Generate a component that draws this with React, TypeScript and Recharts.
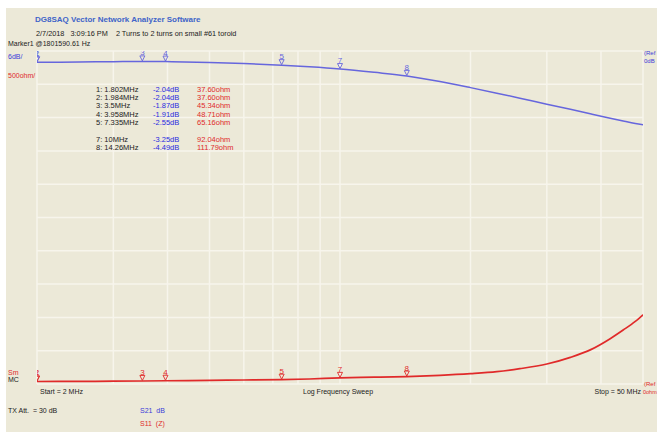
import React from "react";
import {
  ComposedChart,
  Line,
  XAxis,
  YAxis,
  Scatter,
  ReferenceLine,
} from "recharts";

// ---- data ----
const START_MHZ = 2;
const STOP_MHZ = 50;
const freqsMHz = [2, 2.5, 3, 3.5, 3.958, 5, 6, 7.335, 8.5, 10, 12, 14.26, 17, 20, 23, 26, 30, 34, 38, 42, 45, 48, 50];
const s21dB = [-2.04, -1.98, -1.92, -1.87, -1.91, -2.05, -2.25, -2.55, -2.85, -3.25, -3.85, -4.49, -5.5, -6.6, -7.6, -8.5, -9.6, -10.5, -11.35, -12.1, -12.6, -13.05, -13.3];
const s11Ohm = [37.6, 39.5, 42, 45.3, 48.7, 55, 60, 65.2, 75, 92, 102, 111.8, 130, 155, 185, 230, 300, 400, 520, 680, 810, 940, 1040];

const markerIds = ["1", "2", "3", "4", "5", "7", "8"];
const markerFreqLabels = ["1.802MHz", "1.984MHz", "3.5MHz", "3.958MHz", "7.335MHz", "10MHz", "14.26MHz"];
const markerFreqs = [1.802, 1.984, 3.5, 3.958, 7.335, 10, 14.26];
const markerDb = [-2.04, -2.04, -1.87, -1.91, -2.55, -3.25, -4.49];
const markerOhm = [37.6, 37.6, 45.34, 48.71, 65.16, 92.04, 111.79];
const markerRowIndex = [0, 1, 2, 3, 4, 6, 7];

const gridFreqs = [2, 3, 4, 5, 6, 7, 8, 9, 10, 20, 30, 40, 50];
const dbGrid = [0, -6, -12, -18, -24, -30, -36, -42, -48, -54, -60];

const dbDomain = [-60, 0];
const ohmDomain = [0, 5000];

// ---- layout ----
const W = 657;
const H = 432;
const PLOT_LEFT = 37;
const PLOT_RIGHT = 643;
const PLOT_TOP = 51;
const PLOT_BOTTOM = 384;

const BLUE = "#6666dd";
const RED = "#e02a2a";
const BG = "#ece9d8";
const GRID = "#f7f5ec";
const FONT = "'Liberation Sans', Arial, sans-serif";

const chartData = freqsMHz.map((f, i) => ({ f, s21: s21dB[i], z: s11Ohm[i] }));
const markerData = markerFreqs.map((f, i) => ({
  f: Math.max(f, START_MHZ),
  db: markerDb[i],
  ohm: markerOhm[i],
  id: markerIds[i],
}));

const makeFlag = (color: string) => (props: any) => {
  const { cx, cy, payload } = props;
  if (cx == null || cy == null) return <g />;
  return (
    <g>
      <text x={cx} y={cy - 6} fontSize={8} fontFamily={FONT} fill={color} textAnchor="middle">
        {payload.id}
      </text>
      <path
        d={`M${cx - 2.5},${cy - 5.5} L${cx + 2.5},${cy - 5.5} L${cx},${cy - 0.5} Z`}
        fill="none"
        stroke={color}
        strokeWidth={0.9}
      />
    </g>
  );
};

const txt = (x: number, y: number, s: string, color = "#222", size = 7, extra: any = {}) => (
  <text x={x} y={y} fontSize={size} fontFamily={FONT} fill={color} style={{ whiteSpace: "pre" }} {...extra}>
    {s}
  </text>
);

export default function App() {
  return (
    <div style={{ position: "absolute", left: 0, top: 0, width: W, height: H, background: "#ffffff", overflow: "hidden" }}>
      <div style={{ position: "absolute", left: 6, top: 8, width: W - 6, height: H - 8, background: BG }} />
      <div style={{ position: "absolute", left: 0, top: 0 }}>
        <ComposedChart
          width={W}
          height={H}
          data={chartData}
          margin={{ left: PLOT_LEFT, right: W - PLOT_RIGHT, top: PLOT_TOP, bottom: H - PLOT_BOTTOM }}
        >
          <XAxis dataKey="f" type="number" scale="log" domain={[START_MHZ, STOP_MHZ]} hide allowDataOverflow />
          <YAxis yAxisId="db" domain={dbDomain} hide allowDataOverflow />
          <YAxis yAxisId="ohm" orientation="right" domain={ohmDomain} hide allowDataOverflow />
          {gridFreqs.map((g) => (
            <ReferenceLine key={"v" + g} x={g} yAxisId="db" stroke={GRID} strokeWidth={1.5} />
          ))}
          {dbGrid.map((g) => (
            <ReferenceLine key={"h" + g} y={g} yAxisId="db" stroke={GRID} strokeWidth={1.5} />
          ))}
          <Line yAxisId="db" dataKey="s21" type="monotone" stroke={BLUE} strokeWidth={1.5} dot={false} isAnimationActive={false} />
          <Line yAxisId="ohm" dataKey="z" type="monotone" stroke={RED} strokeWidth={1.7} dot={false} isAnimationActive={false} />
          <Scatter yAxisId="db" data={markerData} dataKey="db" shape={makeFlag(BLUE)} isAnimationActive={false} />
          <Scatter yAxisId="ohm" data={markerData} dataKey="ohm" shape={makeFlag(RED)} isAnimationActive={false} />
        </ComposedChart>
      </div>
      <svg width={W} height={H} style={{ position: "absolute", left: 0, top: 0, pointerEvents: "none" }}>
        {txt(35, 22, "DG8SAQ Vector Network Analyzer Software", "#4064c8", 8, { fontWeight: "bold" })}
        {txt(36, 36, "2/7/2018   3:09:16 PM    2 Turns to 2 turns on small #61 toroid", "#222", 7.3)}
        {txt(8, 46, "Marker1 @1801590.61 Hz")}
        {txt(8, 59, "6dB/", "#3b3bd8")}
        {txt(8, 78, "500ohm/", RED)}
        {txt(644, 55, "(Ref", "#3b3bd8", 6)}
        {txt(644, 63, "0dB", "#3b3bd8", 6)}
        {markerIds.map((id, i) => {
          const y = 91.5 + markerRowIndex[i] * 8.4;
          return (
            <g key={"row" + id}>
              {txt(96, y, `${id}: ${markerFreqLabels[i]}`, "#222", 7.5)}
              {txt(153, y, `${markerDb[i].toFixed(2)}dB`, "#2a2ae0", 7.5)}
              {txt(197, y, `${markerOhm[i].toFixed(2)}ohm`, RED, 7.5)}
            </g>
          );
        })}
        {txt(8, 375, "Sm", RED)}
        {txt(8, 382, "MC")}
        {txt(40, 394, `Start = ${START_MHZ} MHz`)}
        {txt(303, 394, "Log Frequency Sweep")}
        {txt(641, 394, `Stop = ${STOP_MHZ} MHz`, "#222", 7, { textAnchor: "end" })}
        {txt(644, 386, "(Ref", RED, 6)}
        {txt(643, 394, "0ohm", RED, 5.5)}
        {txt(8, 413, "TX Att.  = 30 dB")}
        {txt(140, 413, "S21  dB", "#3b3bd8")}
        {txt(140, 426, "S11  (Z)", RED)}
      </svg>
    </div>
  );
}
